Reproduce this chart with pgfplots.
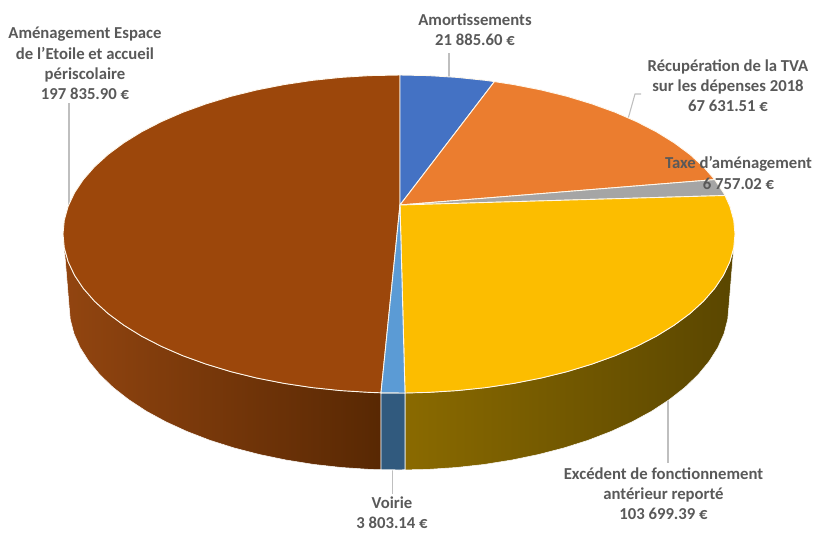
\documentclass[border=0pt]{standalone}
\usepackage{fontspec}
\setmainfont{Carlito}
\usepackage{pgfplots}
\pgfplotsset{compat=1.18}
\definecolor{cBlue}{HTML}{4472C4}
\definecolor{cOrange}{HTML}{EB7D2F}
\definecolor{cGray}{HTML}{A5A5A5}
\definecolor{cYellow}{HTML}{FCBD00}
\definecolor{cLBlue}{HTML}{5B9BD5}
\definecolor{cBrown}{HTML}{9C470B}
\definecolor{cEdge}{HTML}{FFF8EC}
\definecolor{cLead}{HTML}{BFBFBF}
\definecolor{cText}{HTML}{595959}
\definecolor{sYellowL}{HTML}{8A6A00}
\definecolor{sYellowM}{HTML}{685000}
\definecolor{sYellowR}{HTML}{5A4600}
\definecolor{sBrownL}{HTML}{924510}
\definecolor{sBrownR}{HTML}{582803}
\definecolor{sBlue}{HTML}{315A7E}
\begin{document}
\begin{tikzpicture}
\path[use as bounding box] (0,0) rectangle (815pt,533pt);
\begin{axis}[at={(0,0)},anchor=south west,scale only axis,width=815pt,height=533pt,
  xmin=0,xmax=815,ymin=0,ymax=533,y dir=reverse,hide axis,clip=false]
% leaders
\addplot[cLead,line width=1.1pt] coordinates {(449,53)(449,78)};
\addplot[cLead,line width=1.1pt] coordinates {(641,94)(635,94)(628,119)};
\addplot[cLead,line width=1.1pt] coordinates {(69,103)(69,205)};
\addplot[cLead,line width=1.1pt] coordinates {(392.3,469)(392.3,494)};
\addplot[cLead,line width=1.1pt] coordinates {(668,399)(668,463)};
% sides
\addplot[draw=white,line width=0.5pt,left color=sYellowL,middle color=sYellowM,right color=sYellowR] coordinates {
(733.7,247.9)(729.9,261.6)(723.5,275.2)(714.7,288.4)(703.5,301.2)(690,313.5)(674.2,325.2)(656.4,336.2)(636.6,346.4)(615,355.8)(591.7,364.2)(567,371.7)(541,378.1)(513.9,383.4)(486,387.6)(457.3,390.6)(428.3,392.4)(405,393)
(405,469.9)(427.8,469.4)(456.3,467.5)(484.4,464.4)(511.9,460)(538.5,454.5)(564,447.9)(588.3,440.2)(611.1,431.4)(632.3,421.7)(651.8,411.1)(669.3,399.6)(684.8,387.5)(698.1,374.7)(709.1,361.4)(717.8,347.7)(724,333.7)(727.7,319.4)(729,305)
} --cycle;
\addplot[draw=white,line width=0.5pt,left color=sBrownL,right color=sBrownR] coordinates {
(64.3,247.9)(68.1,261.6)(74.5,275.2)(83.3,288.4)(94.5,301.2)(108,313.5)(123.8,325.2)(141.6,336.2)(161.4,346.4)(183,355.8)(206.3,364.2)(231,371.7)(257,378.1)(284.1,383.4)(312,387.6)(340.7,390.6)(369.7,392.4)(381,392.8)
(381,469.75)(370.2,469.4)(341.7,467.5)(313.6,464.4)(286.1,460)(259.5,454.5)(234,447.9)(209.7,440.2)(186.9,431.4)(165.7,421.7)(146.2,411.1)(128.7,399.6)(113.2,387.5)(99.9,374.7)(88.9,361.4)(80.2,347.7)(74,333.7)(70.3,319.4)(69,305)
} --cycle;
\addplot[draw=white,line width=0.9pt,fill=sBlue] coordinates {(381,392.8)(405,393)(405,469.9)(399,470)(381,469.75)} --cycle;
% top
\addplot[draw=cEdge,line width=0.9pt,fill=cBrown] coordinates {
(400,205)(381,392.8)(369.7,392.4)(340.7,390.6)(312,387.6)(284.1,383.4)(257,378.1)(231,371.7)(206.3,364.2)(183,355.8)(161.4,346.4)(141.6,336.2)(123.8,325.2)(108,313.5)(94.5,301.2)(83.3,288.4)(74.5,275.2)(68.1,261.6)(64.3,247.9)(63,234)(64.3,220.1)(68.1,206.4)(74.5,192.8)(83.3,179.6)(94.5,166.8)(108,154.5)(123.8,142.8)(141.6,131.8)(161.4,121.6)(183,112.2)(206.3,103.8)(231,96.3)(257,89.9)(284.1,84.6)(312,80.4)(340.7,77.4)(369.7,75.6)(400,75)
} --cycle;
\addplot[draw=cEdge,line width=0.9pt,fill=cBlue] coordinates {
(400,205)(400,75)(428.3,75.6)(457.3,77.4)(486,80.4)(494.4,81.6)} --cycle;
\addplot[draw=cEdge,line width=0.9pt,fill=cOrange] coordinates {
(400,205)(494.4,81.6)(513.9,84.6)(541,89.9)(567,96.3)(591.7,103.8)(615,112.2)(636.6,121.6)(656.4,131.8)(674.2,142.8)(690,154.5)(703.5,166.8)(714.7,179.6)} --cycle;
\addplot[draw=cEdge,line width=0.9pt,fill=cGray] coordinates {
(400,205)(714.7,179.6)(723.5,192.8)(725,195.5)} --cycle;
\addplot[draw=cEdge,line width=0.9pt,fill=cYellow] coordinates {
(400,205)(725,195.5)(729.9,206.4)(733.7,220.1)(735,234)(733.7,247.9)(729.9,261.6)(723.5,275.2)(714.7,288.4)(703.5,301.2)(690,313.5)(674.2,325.2)(656.4,336.2)(636.6,346.4)(615,355.8)(591.7,364.2)(567,371.7)(541,378.1)(513.9,383.4)(486,387.6)(457.3,390.6)(428.3,392.4)(405,393)} --cycle;
\addplot[draw=cEdge,line width=0.9pt,fill=cLBlue] coordinates {
(400,205)(405,393)(381,392.8)} --cycle;
% labels
\tikzset{lab/.style={font=\fontsize{16.7}{20.3}\selectfont\bfseries,text=cText,align=center,inner sep=0pt,anchor=center}}
\node[lab] at (axis cs:475,29.5) {Amortissements\\21~885.60~€};
\node[lab] at (axis cs:85,63.5) {Aménagement Espace\\de l'Etoile et accueil\\périscolaire\\197~835.90~€};
\node[lab] at (axis cs:728,85.5) {Récupération de la TVA\\sur les dépenses 2018\\67~631.51~€};
\node[lab] at (axis cs:738.5,173) {Taxe d'aménagement\\6~757.02~€};
\node[lab] at (axis cs:663.5,493.5) {Excédent de fonctionnement\\antérieur reporté\\103~699.39~€};
\node[lab] at (axis cs:392,513) {Voirie\\3~803.14~€};
\end{axis}
\end{tikzpicture}
\end{document}
